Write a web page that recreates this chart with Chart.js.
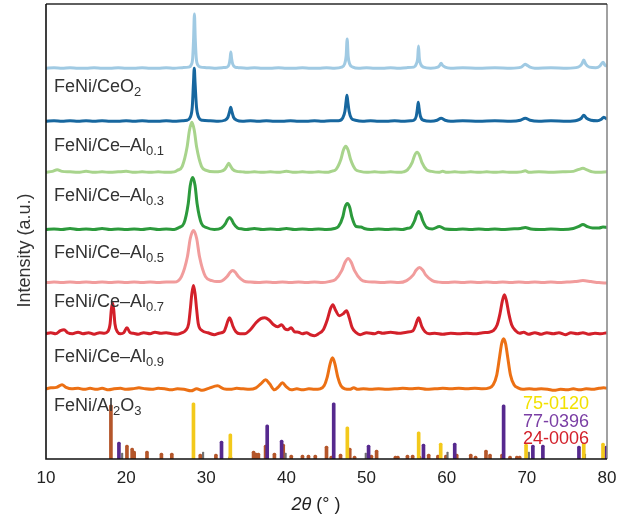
<!DOCTYPE html>
<html>
<head>
<meta charset="utf-8">
<script src="https://cdn.jsdelivr.net/npm/chart.js@4.4.1/dist/chart.umd.min.js"></script>
<style>
  html, body { margin: 0; padding: 0; background: #fff; }
  #graph { display: block; }
</style>
</head>
<body>
<canvas id="graph" width="630" height="520"></canvas>
<script>
// XRD patterns, [2theta, intensity above the pattern's own baseline]
const ceo2Std = [[10,0],[11,0.5],[12,0],[13,0.5],[14,0],[15,0],[16,0.5],[17,0],[18,0],[19,0.5],[20,0],[21,0],[22,0.5],[23,0],[24,0],[25,0.5],[26,0],[27,0.5],[27.8,1],[28.1,3],[28.3,10],[28.42,30],[28.52,54],[28.62,30],[28.75,10],[28.95,3],[29.3,1],[30,0.5],[31,0],[32,0.5],[32.6,1],[32.85,4],[32.98,10],[33.06,16],[33.15,10],[33.3,4],[33.6,1],[34,0.5],[35,0],[36,0.5],[37,0],[38,0],[39,0.5],[40,0],[41,0],[42,0.5],[43,0],[44,0],[45,0.5],[46,0],[46.9,1],[47.25,4],[47.45,12],[47.58,29],[47.7,12],[47.9,4],[48.3,1],[49,0],[50,0.5],[51,0],[52,0],[53,0.5],[54,0],[55,0.5],[55.9,1],[56.2,4],[56.38,10],[56.48,22],[56.58,10],[56.75,4],[57.1,1],[58,0],[58.9,1],[59.15,3],[59.3,5],[59.45,3],[59.8,1],[60.5,0],[62,0.5],[64,0],[66,0.5],[68,0],[69.3,1],[69.6,3],[69.8,4],[70.0,3],[70.4,1],[71,0],[73,0.5],[75,0],[76.4,1],[76.85,4],[77.1,8],[77.35,4],[77.8,1],[78.6,0.5],[79.1,2],[79.5,6],[79.75,3],[80,2]];
const feniCeO2 = [[10,0],[11,0.5],[12,0],[13,0.5],[14,0],[15,0.5],[16,0],[17,0.5],[18,0],[19,0],[20,0.5],[21,0],[22,0.5],[23,0],[24,0],[25,0.5],[26,0],[27,0.5],[27.6,1],[28.0,4],[28.25,14],[28.4,38],[28.5,53],[28.6,38],[28.78,14],[29.05,4],[29.5,1],[30.5,0.5],[31.5,0],[32.3,1],[32.7,4],[32.92,10],[33.05,14],[33.18,10],[33.4,4],[33.8,1],[34.5,0],[35.5,0.5],[36.5,0],[37.5,0.5],[38.5,0],[39.5,0],[40.5,0.5],[41.5,0],[42.5,0],[43.5,0.5],[44.5,0],[45.5,0.5],[46.5,0.5],[47.0,3],[47.3,10],[47.45,20],[47.55,26],[47.65,20],[47.82,10],[48.1,3],[48.6,1],[49.5,0],[50.5,0.5],[51.5,0],[52.5,0],[53.5,0.5],[54.5,0],[55.5,0.5],[55.9,1],[56.2,5],[56.35,13],[56.45,19],[56.55,13],[56.72,5],[57.1,1],[58,0],[58.8,1],[59.3,3],[59.8,1],[60.5,0],[62,0.5],[64,0],[66,0.5],[68,0],[69.2,1],[69.8,3],[70.4,1],[71.5,0],[73,0.5],[75,0],[76.3,1],[76.8,3],[77.1,6],[77.45,3],[78.0,1],[78.8,0.5],[79.3,2],[79.6,4],[80,2]];
const feniAl01 = [[10,0],[10.8,1],[11.4,2.5],[12,1],[13,0.5],[14,0],[15,1],[16,0],[17,0.5],[18,0],[19,0.5],[20,1],[21,0],[22,0.5],[23,0],[24,0.5],[25,0],[26,0.5],[26.4,2],[27.0,6],[27.6,25],[27.9,42],[28.2,50],[28.5,42],[28.8,25],[29.4,6],[30.0,2],[31,0.5],[31.8,1],[32.3,3],[32.55,6],[32.8,9],[33.05,6],[33.3,3],[33.8,1],[34.5,0.5],[35,0],[36,0.5],[37,0],[38,0.5],[39,0],[40,1],[41,0],[42,0.5],[43,0],[44,0.5],[45,0],[45.6,1],[46.2,3],[46.8,13],[47.1,22],[47.4,26],[47.7,22],[48.0,13],[48.6,3],[49.2,1],[50,0],[51,0.5],[52,0],[53,0.5],[54,0],[54.6,0.5],[55.1,2.5],[55.7,10],[56.0,17],[56.3,20],[56.6,17],[56.9,10],[57.5,2.5],[58.1,1],[59,0],[59.5,1],[60,0],[61,0.5],[62,0],[63,0.5],[64,0],[65,0.5],[66,0],[67,0.5],[68,0],[69.3,0.5],[69.8,1.5],[70.3,0],[71.5,0.5],[73,0],[74.5,0.5],[75.8,1],[76.5,3],[77.0,4],[77.5,2.5],[78.2,0.5],[79,0],[80,0.5]];
const feniAl03 = [[10,0],[11,0.5],[12,0],[13,1],[14,0],[15,0.5],[16,0],[17,1],[18,0],[19,0.5],[20,0],[21,0.5],[22,0],[23,1],[24,0],[25,0.5],[26,0],[26.6,2],[27.2,6],[27.75,26],[28.0,44],[28.3,52],[28.6,44],[28.85,26],[29.4,6],[30.0,2],[31,0],[31.9,1.5],[32.4,6],[32.65,10],[32.9,12],[33.15,10],[33.4,6],[33.9,1.5],[34.5,0.5],[35,0],[36,1],[37,0],[38,0.5],[39,0],[40,1],[41,0],[42,0.5],[43,0],[44,0.5],[45,0],[46,1],[46.5,3],[47.05,13],[47.3,22],[47.6,26],[47.9,22],[48.15,13],[48.7,3],[49.3,2.5],[49.7,1],[50.5,0],[51.5,0.5],[52.5,0],[53.5,0.5],[54.5,0],[55.0,1],[55.5,2],[56.0,9],[56.25,15],[56.5,18],[56.75,15],[57.0,9],[57.5,2],[58.2,0.5],[59.1,3],[59.8,0.5],[61,0],[62,0.5],[63,0],[64,0.5],[65,0],[66,0.5],[67,0],[68,0.5],[69.2,1],[69.8,2],[70.5,0.5],[72,0],[73,0.5],[74.5,0],[75.8,1],[76.5,3],[77.0,5],[77.5,3],[78.2,1.5],[79,1.5],[79.5,2.5],[80,2]];
const feniAl05 = [[10,0],[11,0.5],[12,0],[13,0.5],[14,0],[15,0.5],[16,0],[17,0.5],[18,0],[19,0.5],[20,0],[21,0.5],[22,0],[23,0.5],[24,0],[25,0.5],[26,0.5],[26.9,6],[27.65,26],[28.0,44],[28.4,52],[28.8,44],[29.15,26],[29.9,6],[30.7,2],[31.3,1],[31.9,1.5],[32.6,6],[32.95,10],[33.3,12],[33.65,10],[34.0,6],[34.7,1.5],[35.5,0.5],[36.5,0],[37.5,0.5],[38.5,0],[39.5,0.5],[40.5,0],[41.5,0.5],[42.5,0],[43.5,0.5],[44.5,0],[45.3,1],[46.1,3],[46.9,12],[47.3,20],[47.7,24],[48.1,20],[48.5,12],[49.3,3],[50,1],[51,0.5],[52,0],[53,0.5],[54,0],[55.0,2],[55.8,7.5],[56.2,12.5],[56.6,15],[57.0,12.5],[57.4,7.5],[58.2,2],[59,0.5],[60,0],[61,0.5],[62,0],[63,0.5],[64,0],[65,0.5],[66,0],[67,0.5],[68,0],[69,0.5],[70,0],[71,0.5],[72,0],[73,0.5],[74,0],[75,0.5],[76,1],[77,2],[78,1],[79,0],[80,-0.5]];
const feniAl07 = [[10,0],[10.6,1],[11.2,0],[11.8,3],[12.25,4],[12.7,1],[13.3,0],[14,1.5],[14.6,0],[15.3,1],[16,-0.5],[16.7,1],[17.3,0.5],[17.7,2],[18.0,10],[18.15,24],[18.3,31],[18.45,24],[18.6,10],[18.9,2],[19.3,0],[19.7,1],[20.1,6],[20.5,1],[20.9,0.5],[21.5,-0.5],[22.2,1],[23,0],[23.6,1.5],[24.3,0.5],[25,1],[25.7,0],[26.4,-0.5],[27,1],[27.4,3],[27.8,10],[28.0,24],[28.2,40],[28.4,48],[28.6,40],[28.8,24],[29.0,10],[29.5,3],[30.2,1],[31,-1],[31.6,0.5],[32.2,2],[32.5,8],[32.7,13],[32.9,16],[33.1,13],[33.3,8],[33.7,2],[34.2,0],[34.8,0],[35.5,4],[36.2,11],[36.8,15],[37.3,16],[37.8,14],[38.4,9],[38.9,7],[39.4,9],[39.8,5],[40.2,4],[40.6,6],[41.0,2],[41.5,1.5],[42,0],[42.5,1],[43,-1],[43.5,-2],[44.0,0],[44.6,4],[45.1,14],[45.5,25],[45.8,29],[46.1,24],[46.6,18],[47.1,20],[47.5,23],[47.8,17],[48.2,6],[48.7,1],[49.2,-1],[50,1],[51,0],[51.5,1.5],[52,0.5],[53,1.5],[54,0.5],[55,1.5],[55.8,3],[56.1,8],[56.3,13],[56.5,16],[56.7,12],[56.9,7],[57.3,2],[57.8,0],[58.5,0.5],[59.5,-0.5],[60.5,0.5],[61.5,0],[62.5,0.5],[63.5,0],[64.5,1],[65.3,1.5],[65.8,3],[66.3,9],[66.65,20],[66.95,33],[67.2,39],[67.45,33],[67.75,20],[68.1,9],[68.6,3],[69.1,0.5],[69.6,1.5],[70.2,-0.5],[71,1],[71.8,-0.5],[72.5,1],[73.3,0],[74,1],[74.8,-1],[75.5,1],[76.3,0],[77,1],[77.7,-0.5],[78.5,0.5],[79.2,0],[80,1]];
const feniAl09 = [[10,0],[10.6,1],[11.3,1.5],[12.0,4],[12.5,1.5],[13.2,0],[14,0.5],[14.8,-0.5],[15.5,0.5],[16.3,-0.5],[17,0.5],[17.8,-1],[18.5,0],[19.3,0.5],[20,-0.5],[20.8,0],[21.6,1],[22.4,0],[23.2,-0.5],[24,0.5],[24.8,0],[25.6,-1],[26.4,0],[27.2,-0.5],[28.1,-2],[28.8,0],[29.5,-1.5],[30.3,0.5],[31.4,3],[32.2,0],[33,-0.5],[33.8,0.5],[34.6,0],[35.4,-0.5],[36.2,1],[36.8,5],[37.4,9],[37.9,5],[38.5,-1],[39.0,2],[39.5,6],[40.0,2],[40.6,-1],[41.3,0],[42,-1],[42.8,0],[43.5,-0.5],[44.2,0],[44.7,3],[45.1,12],[45.45,25],[45.75,31],[46.05,25],[46.4,12],[46.8,3],[47.3,0],[47.9,-0.5],[48.4,1],[48.9,-0.5],[49.6,0],[50.5,-0.5],[51.5,0],[52.5,-0.5],[53.5,0],[54.5,0.5],[55.5,0],[56.5,0.5],[57.5,-0.5],[58.5,0],[59.5,0.5],[60.5,0],[61.5,0.5],[62.5,0],[63.5,0.5],[64.5,0],[65.3,1],[65.8,4],[66.25,14],[66.6,32],[66.85,45],[67.1,50],[67.35,45],[67.6,32],[67.95,14],[68.4,4],[68.9,1],[69.5,-0.5],[70.3,0],[71,-0.5],[71.8,0],[72.6,-0.5],[73.4,-1.5],[74.2,-0.5],[75,-1],[75.8,0],[76.6,-1],[77.4,0],[78.2,-0.5],[79,0.5],[79.6,1],[80,0.5]];

// vertical stacking of the patterns
const offsets = [390, 337, 286, 229, 176, 125, 70];

// sample names, _{..} = subscript
const sampleNames = ['FeNi/CeO_{2}', 'FeNi/Ce–Al_{0.1}', 'FeNi/Ce–Al_{0.3}', 'FeNi/Ce–Al_{0.5}', 'FeNi/Ce–Al_{0.7}', 'FeNi/Ce–Al_{0.9}', 'FeNi/Al_{2}O_{3}'];
const nameBase = [337, 286, 229, 176, 125, 70, 0];

// standard cards (position, relative intensity)
const card750120 = [[28.4,56],[33.0,25],[47.6,32],[56.5,27],[59.25,16],[69.9,15],[77.1,16],[79.5,16]];
const card770396 = [[19.1,17],[31.9,18],[37.6,34],[39.4,19],[45.9,56],[50.25,14],[57.1,15],[61.0,16],[67.1,54],[70.75,14],[72.0,14],[76.5,13],[79.9,13]];
const card240006 = [[18.1,54],[20.1,14],[20.75,11],[21.0,8],[22.6,8],[24.4,6],[25.7,6],[29.25,5],[31.2,5],[33.0,3],[35.9,8],[36.2,6],[36.5,6],[37.4,14],[38.5,6],[39.6,15],[40.6,4],[42.0,4],[42.75,4],[43.6,4],[45.0,13],[45.6,3],[46.75,5],[47.9,11],[48.5,3],[50.6,4],[51.25,9],[53.6,3],[53.9,3],[55.1,4],[55.75,4],[56.6,3],[57.75,5],[58.9,4],[59.9,4],[61.25,5],[63.0,5],[63.6,3],[64.9,9],[65.4,5],[66.9,5],[67.9,3],[68.75,3],[69.1,3]];
const cardOther = [[19.5,6],[29.6,7],[39.9,6],[49.9,6],[60.1,7],[70.25,7],[77.25,5]];
const cardCodes = ['75-0120', '77-0396', '24-0006'];

const xTicks = [10, 20, 30, 40, 50, 60, 70, 80];

const FONT = '"Liberation Sans", Arial, sans-serif';
const lineColors = ['#a0cae3', '#17679f', '#a8d48c', '#2c9a3c', '#f19c9c', '#d3202a', '#ec7014'];
const patterns = [ceo2Std, feniCeO2, feniAl01, feniAl03, feniAl05, feniAl07, feniAl09];

var datasets = [];

// sticks first so the bright cards sit over the brown one
var cards = [
  { data: card750120, color: '#f3c91b' },
  { data: card770396, color: '#56298e' },
  { data: cardOther, color: '#6f6f6f', width: 1.5 },
  { data: card240006, color: '#b4562a' }
];
cards.forEach(function(c) {
  datasets.push({
    type: 'bar',
    stack: 'cards',
    data: c.data.map(function(p) { return { x: p[0], y: p[1] }; }),
    backgroundColor: c.color,
    barThickness: c.width || 3,
    borderRadius: 1.5,
    borderSkipped: 'start'
  });
});

patterns.forEach(function(serie, i) {
  datasets.push({
    type: 'line',
    data: serie.map(function(p) { return { x: p[0], y: p[1] + offsets[i] }; }),
    borderColor: lineColors[i],
    borderWidth: 3,
    pointRadius: 0,
    cubicInterpolationMode: 'monotone',
    fill: false
  });
});

function drawRich(ctx, text, x, y, size) {
  var parts = text.split(/_\{([^}]*)\}/);
  parts.forEach(function(part, i) {
    var sub = i % 2 === 1;
    ctx.font = (sub ? Math.round(size * 0.7) : size) + 'px ' + FONT;
    ctx.fillText(part, x, sub ? y + 4 : y);
    x += ctx.measureText(part).width;
  });
}

const decor = {
  id: 'decor',
  afterDatasetsDraw: function(chart) {
    var ctx = chart.ctx;
    var a = chart.chartArea;
    var y = chart.scales.y;
    ctx.save();

    // frame
    ctx.lineWidth = 1.6;
    ctx.strokeStyle = '#8a8a8a';
    ctx.beginPath(); ctx.moveTo(a.right, a.top); ctx.lineTo(a.right, a.bottom); ctx.stroke();
    ctx.strokeStyle = '#2a2a2a';
    ctx.beginPath(); ctx.moveTo(a.left, a.top); ctx.lineTo(a.right, a.top); ctx.stroke();
    ctx.strokeStyle = '#111';
    ctx.beginPath(); ctx.moveTo(a.left, a.top); ctx.lineTo(a.left, a.bottom); ctx.lineTo(a.right, a.bottom); ctx.stroke();

    // sample names
    ctx.fillStyle = '#333';
    ctx.textBaseline = 'alphabetic';
    ctx.textAlign = 'left';
    var lift = [29, 21, 28, 25, 27, 27, 48];
    sampleNames.forEach(function(name, i) {
      drawRich(ctx, name, a.left + 8, y.getPixelForValue(nameBase[i] + lift[i]), 18);
    });

    // card codes
    var codeColors = ['#f2e100', '#7a3ea4', '#d3202a'];
    ctx.font = '18px ' + FONT;
    cardCodes.forEach(function(code, i) {
      ctx.fillStyle = codeColors[i];
      ctx.fillText(code, a.left + 477, a.bottom - 50 + i * 17.5);
    });

    // axis titles
    ctx.fillStyle = '#222';
    ctx.font = 'italic 18px ' + FONT;
    var t1 = '2θ', t2 = ' (° )';
    var w1 = ctx.measureText(t1).width;
    ctx.font = '18px ' + FONT;
    var w2 = ctx.measureText(t2).width;
    var x0 = 316 - (w1 + w2) / 2;
    ctx.font = 'italic 18px ' + FONT;
    ctx.fillText(t1, x0, 510);
    ctx.font = '18px ' + FONT;
    ctx.fillText(t2, x0 + w1, 510);

    ctx.translate(25, (a.top + a.bottom) / 2 + 19);
    ctx.rotate(-Math.PI / 2);
    ctx.textAlign = 'center';
    ctx.textBaseline = 'middle';
    ctx.fillStyle = '#333';
    ctx.fillText('Intensity (a.u.)', 0, 0);
    ctx.restore();
  }
};

const graph = new Chart(document.getElementById('graph'), {
  type: 'line',
  data: { datasets: datasets },
  options: {
    responsive: false,
    animation: false,
    layout: { padding: { left: 46, right: 23, top: 4, bottom: 22.6 } },
    plugins: { legend: { display: false }, tooltip: { enabled: false } },
    scales: {
      x: {
        type: 'linear',
        min: 10,
        max: 80,
        offset: false,
        border: { display: false },
        grid: { display: false, drawTicks: false },
        afterBuildTicks: function(axis) { axis.ticks = xTicks.map(function(v) { return { value: v }; }); },
        ticks: { padding: 9, color: '#222', font: { family: FONT, size: 17 } }
      },
      y: {
        display: false,
        min: 0,
        max: 454,
        stacked: false
      }
    }
  },
  plugins: [decor]
});
</script>
</body>
</html>
